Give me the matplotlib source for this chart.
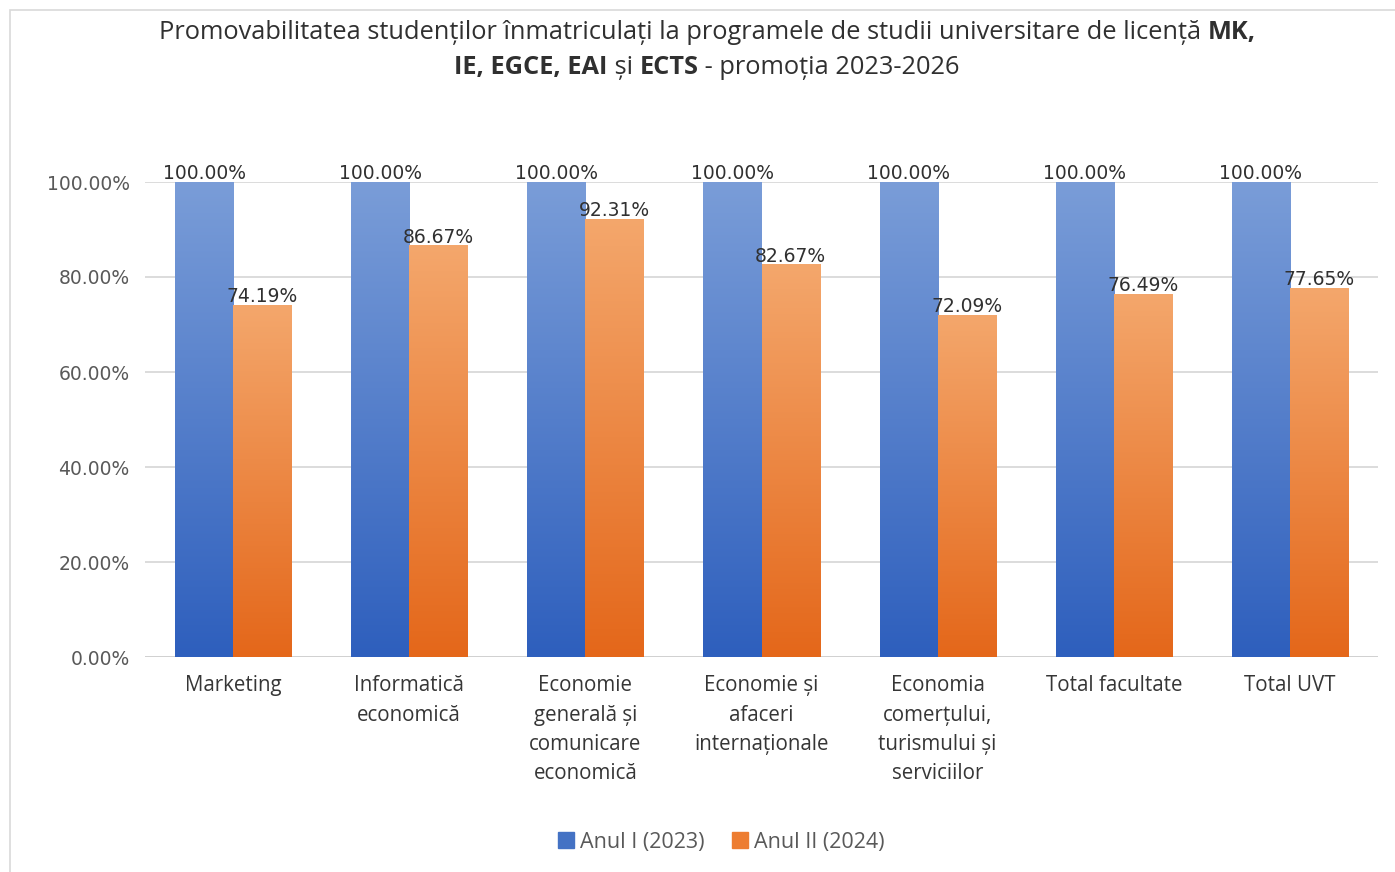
import matplotlib
matplotlib.use("Agg")
import matplotlib.pyplot as plt
import numpy as np
from matplotlib.patches import Rectangle
from matplotlib.colors import LinearSegmentedColormap

categories = ["Marketing", "Informatică\neconomică",
              "Economie\ngenerală și\ncomunicare\neconomică",
              "Economie și\nafaceri\ninternaționale",
              "Economia\ncomerțului,\nturismului și\nserviciilor",
              "Total facultate", "Total UVT"]
anul1 = [100.00, 100.00, 100.00, 100.00, 100.00, 100.00, 100.00]
anul2 = [74.19, 86.67, 92.31, 82.67, 72.09, 76.49, 77.65]
series_names = ["Anul I (2023)", "Anul II (2024)"]
yticks = [0, 20, 40, 60, 80, 100]

W, H = 1395, 872
fig = plt.figure(figsize=(W / 100, H / 100), dpi=100)
fig.patch.set_facecolor("white")

# chart frame
fig.patches.append(Rectangle((10 / W, -0.01), 1.1, 1 - 10 / H + 0.01, transform=fig.transFigure,
                             facecolor="none", edgecolor="#d9d9d9", lw=1.2, zorder=0))

ax = fig.add_axes([145 / W, 1 - 657 / H, (1378 - 145) / W, (657 - 182) / H])
ax.set_zorder(2)
ax.set_xlim(-0.5, 6.5)
ax.set_ylim(0, 100)
ax.set_facecolor("none")
for s in ax.spines.values():
    s.set_visible(False)
ax.set_yticks(yticks)
ax.set_yticklabels([f"{v:.2f}%" for v in yticks], fontsize=13.5, color="#595959",
                   family="DejaVu Sans")
ax.tick_params(axis="y", length=0, pad=11)
ax.yaxis.grid(True, color="#d9d9d9", lw=1.3)
ax.set_axisbelow(True)
ax.axhline(0, color="#d0d0d0", lw=1.3, zorder=1)

x = np.arange(len(categories))
bw = 0.33
blue_cmap = LinearSegmentedColormap.from_list("b", ["#7a9dd8", "#2e5fbd"])
orange_cmap = LinearSegmentedColormap.from_list("o", ["#f4a76c", "#e4671a"])
grad = np.linspace(0, 1, 256).reshape(-1, 1)

b1 = ax.bar(x - bw / 2, anul1, bw, color="#4472c4", zorder=2, label=series_names[0])
b2 = ax.bar(x + bw / 2, anul2, bw, color="#ed7d31", zorder=2, label=series_names[1])
for bars, cmap in ((b1, blue_cmap), (b2, orange_cmap)):
    for r in bars:
        x0, y0 = r.get_x(), r.get_y()
        w, h = r.get_width(), r.get_height()
        im = ax.imshow(grad, cmap=cmap, aspect="auto", extent=(x0, x0 + w, y0, y0 + h),
                       origin="upper", zorder=3, interpolation="bilinear")
        im.set_clip_path(r)
ax.set_xlim(-0.5, 6.5)
ax.set_ylim(0, 100)

for i, (a, b) in enumerate(zip(anul1, anul2)):
    ax.annotate(f"{a:.2f}%", (i - bw / 2, a), xytext=(0, 2), textcoords="offset points",
                ha="center", va="baseline", fontsize=13.5, color="#303030",
                family="DejaVu Sans", clip_on=False, zorder=5)
    ax.annotate(f"{b:.2f}%", (i + bw / 2, b), xytext=(0, 2), textcoords="offset points",
                ha="center", va="baseline", fontsize=13.5, color="#303030",
                family="DejaVu Sans", clip_on=False, zorder=5)

ax.set_xticks(x)
ax.set_xticklabels(categories, fontsize=14.8, color="#363636", family="Open Sans",
                   linespacing=1.53, va="top")
ax.tick_params(axis="x", length=0, pad=13)

# legend
leg = ax.legend(handles=[Rectangle((0, 0), 1, 1, color="#4472c4"),
                         Rectangle((0, 0), 1, 1, color="#ed7d31")],
                labels=series_names, loc="center", bbox_to_anchor=(721 / W, 1 - 842 / H),
                bbox_transform=fig.transFigure, ncol=2, frameon=False,
                prop={"family": "Open Sans", "size": 15.5}, handlelength=0.75,
                handleheight=0.75, handletextpad=0.25, columnspacing=1.3)
for t in leg.get_texts():
    t.set_color("#595959")

# title with mixed bold
title_lines = [
    [("Promovabilitatea studenților înmatriculați la programele de studii universitare de licență ", False), ("MK,", True)],
    [("IE, EGCE, EAI", True), (" și ", False), ("ECTS", True), (" - promoția 2023-2026", False)],
]
title_base = [39, 74]
title_fs = 18.3
fig.canvas.draw()
renderer = fig.canvas.get_renderer()
for segs, yp in zip(title_lines, title_base):
    widths = []
    texts = []
    for s, bold in segs:
        t = fig.text(0, 0, s, fontsize=title_fs, family="Open Sans",
                     fontweight="bold" if bold else "normal", color="#303030",
                     va="baseline", ha="left")
        texts.append(t)
    for t in texts:
        s = t.get_text()
        t.set_text("|" + s + "|")
        w_full = t.get_window_extent(renderer).width
        t.set_text("||")
        w_bars = t.get_window_extent(renderer).width
        t.set_text(s)
        widths.append(w_full - w_bars)
    total = sum(widths)
    xs = 707 - total / 2
    for t, w in zip(texts, widths):
        t.set_position((xs / W, 1 - yp / H))
        xs += w

fig.savefig("out.png", dpi=100, facecolor="white")
